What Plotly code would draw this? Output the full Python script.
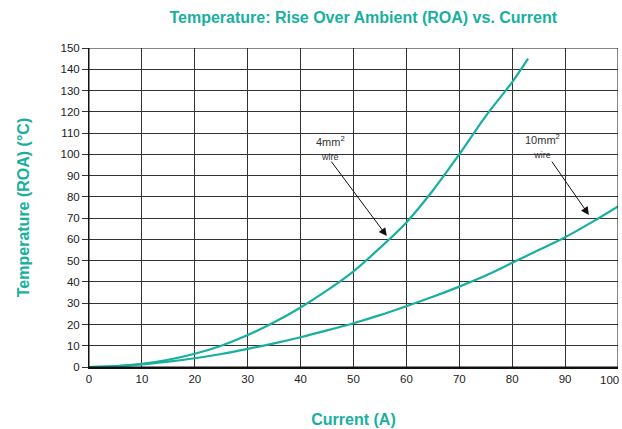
import plotly.graph_objects as go

# Current (A) and temperature rise over ambient (°C) for each wire size
current_4mm = [0, 5, 10, 15, 20, 25, 30, 35, 40, 45, 50, 55, 60, 65, 70, 75, 80, 83]
temp_4mm = [0, 0.4, 1.5, 3.4, 6.2, 10, 15, 21, 28, 36, 45, 56, 68, 83, 100, 118, 134, 145]

current_10mm = [0, 5, 10, 15, 20, 25, 30, 35, 40, 45, 50, 55, 60, 65, 70, 75, 80, 85, 90, 95, 100]
temp_10mm = [0, 0.3, 1.2, 2.5, 4.1, 6.1, 8.5, 11.1, 14, 17.2, 20.6, 24.4, 28.6, 33, 37.8, 43, 49, 55, 61, 68, 75.5]

x_ticks = list(range(0, 101, 10))
y_ticks = list(range(0, 151, 10))

TEAL = "#17b09f"
FONT = "Liberation Sans, Arial, sans-serif"
TICK_FONT = dict(family=FONT, size=11.5, color="#222")

fig = go.Figure()
for xs, ys in [(current_4mm, temp_4mm), (current_10mm, temp_10mm)]:
    fig.add_trace(go.Scatter(x=xs, y=ys, mode="lines", line=dict(color=TEAL, width=2.2, shape="spline"),
                             showlegend=False, hoverinfo="skip"))

# labels with arrows pointing at each curve
labels = [
    dict(name="4mm", tx=45.7, ty=102.8, head=(56.3, 61.6), tail=(45.6, 97.3)),
    dict(name="10mm", tx=85.8, ty=103.8, head=(94.5, 71.5), tail=(87.3, 97.3)),
]
annotations = []
for lb in labels:
    annotations.append(dict(x=lb["tx"], y=lb["ty"], xref="x", yref="y", showarrow=False,
                            text=lb["name"] + "<sup>2</sup><br><span style='font-size:9px'>wire</span>",
                            font=dict(family=FONT, size=11, color="#333")))
    annotations.append(dict(x=lb["head"][0], y=lb["head"][1], ax=lb["tail"][0], ay=lb["tail"][1],
                            xref="x", yref="y", axref="x", ayref="y", text="", showarrow=True,
                            arrowhead=2, arrowsize=1.6, arrowwidth=1, arrowcolor="#111"))

# the last x tick label is right-aligned so it stays inside the page edge
x_tick_text = [str(v) for v in x_ticks[:-1]] + [""]
annotations.append(dict(x=x_ticks[-1], y=0, xref="x", yref="paper", xanchor="right", yanchor="top",
                        xshift=3, yshift=-5, showarrow=False, text=str(x_ticks[-1]), font=TICK_FONT))

fig.update_layout(
    width=622, height=429,
    margin=dict(l=89, r=4, t=48, b=62),
    paper_bgcolor="white", plot_bgcolor="white",
    title=dict(text="<b>Temperature: Rise Over Ambient (ROA) vs. Current</b>", x=0.584, xanchor="center",
               y=0.96, yanchor="middle", font=dict(family=FONT, size=16, color=TEAL)),
    xaxis=dict(range=[0, 100], tickvals=x_ticks, ticktext=x_tick_text, showgrid=True, gridcolor="#333",
               gridwidth=1, showline=True, linecolor="#111", linewidth=2, mirror=False, zeroline=False,
               automargin=False, ticks="", tickfont=TICK_FONT,
               title=dict(text="<b>Current (A)</b>", standoff=30, font=dict(family=FONT, size=16, color=TEAL))),
    yaxis=dict(range=[0, 150], tickvals=y_ticks, showgrid=True, gridcolor="#333", gridwidth=1,
               showline=True, linecolor="#111", linewidth=1, zeroline=False, automargin=False,
               ticks="outside", ticklen=6, tickcolor="#333", tickfont=TICK_FONT,
               title=dict(text="<b>Temperature (ROA) (°C)</b>", standoff=26, font=dict(family=FONT, size=16, color=TEAL))),
    annotations=annotations,
)
# frame on the top and right edges
fig.add_shape(type="rect", xref="x", yref="y", x0=0, x1=100, y0=0, y1=150, line=dict(color="#111", width=1))

fig.write_html("out.html")
